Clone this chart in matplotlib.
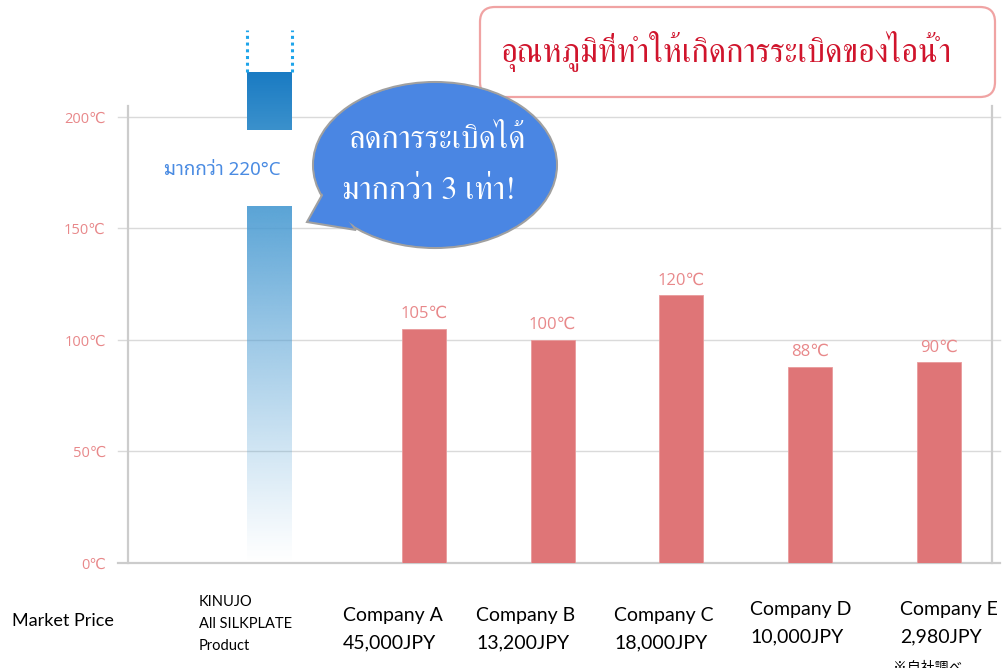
import matplotlib
matplotlib.use("Agg")
import matplotlib.pyplot as plt
import numpy as np
from matplotlib.patches import FancyBboxPatch, Ellipse, Polygon
from matplotlib.colors import to_rgb

# data
companies = ["Company A", "Company B", "Company C", "Company D", "Company E"]
prices = ["45,000JPY", "13,200JPY", "18,000JPY", "10,000JPY", "2,980JPY"]
temps = [105, 100, 120, 88, 90]
kinujo_temp = 220          # "more than 220°C"
kinujo_lower_top = 160     # lower gradient part of the broken bar
kinujo_upper_bottom = 194  # upper solid part of the broken bar
kinujo_dotted_top = 239
yticks = [0, 50, 100, 150, 200]

thai_serif = ["FreeSerif", "Noto Serif Thai", "DejaVu Sans"]
thai_sans = ["Noto Sans Thai Looped", "Noto Sans Thai", "DejaVu Sans"]
latin = ["Lato", "DejaVu Sans"]

pink = "#e8888a"
red_bar = "#df7577"
grey = "#cccccc"

fig = plt.figure(figsize=(10.08, 6.68), dpi=100)
ax = fig.add_axes([128 / 1008, 105 / 668, 864 / 1008, 546.4 / 668])

x_k = 0.0
x_c = np.arange(len(companies)) + 1.2
w = 0.342

# grid lines, slightly longer than the axes on both sides
for yv in yticks[1:]:
    ax.plot([-0.0116, 1.0093], [yv, yv], transform=ax.get_yaxis_transform(),
            color="#dadada", lw=1.0, clip_on=False, zorder=1)
ax.plot([-0.0116, 1.0093], [0, 0], transform=ax.get_yaxis_transform(),
        color=grey, lw=1.6, clip_on=False, zorder=1)

# red bars
ax.bar(x_c, temps, width=w, color=red_bar, edgecolor="#e99a9b", lw=0.6, zorder=3)
for xx, t in zip(x_c, temps):
    ax.annotate(f"{t}℃", (xx, t), xytext=(0, 5), textcoords="offset points",
                ha="center", va="bottom", color=pink, fontsize=12,
                family=["Open Sans", "DejaVu Sans"], zorder=4)

# KINUJO lower gradient part
n = 256
alpha = np.linspace(0.0, 0.92, n) ** 1.1
grad = np.zeros((n, 1, 4))
grad[:, 0, :3] = to_rgb("#4a9bd2")
grad[:, 0, 3] = alpha
ax.imshow(grad, extent=[x_k - w / 2, x_k + w / 2, 0, kinujo_lower_top],
          origin="lower", aspect="auto", zorder=3, interpolation="bilinear")

# KINUJO upper solid part
top_c = np.array(to_rgb("#1a7bc3"))
bot_c = np.array(to_rgb("#3b91cc"))
g2 = np.zeros((64, 1, 3))
for i in range(64):
    g2[i, 0] = bot_c + (top_c - bot_c) * i / 63
ax.imshow(g2, extent=[x_k - w / 2, x_k + w / 2, kinujo_upper_bottom, kinujo_temp],
          origin="lower", aspect="auto", zorder=3, clip_on=False)
for xe in (x_k - w / 2, x_k + w / 2):
    ax.plot([xe, xe], [kinujo_temp, kinujo_dotted_top], color="#1fa5ea",
            lw=2.2, ls=(0, (1, 1.2)), clip_on=False, zorder=3)

ax.text(-0.37, 176, "มากกว่า 220°C", ha="center", va="center",
        color="#4a8be2", fontsize=13.5, family=thai_sans, zorder=4)

ax.set_xlim(-1.0995, 5.614)
ax.set_ylim(0, 245)
ax.set_xticks([])
ax.set_yticks(yticks)
ax.set_yticklabels([f"{v}℃" for v in yticks], color=pink, fontsize=10.5,
                   family=["Open Sans", "DejaVu Sans"])
ax.tick_params(axis="y", length=0, pad=16)
for s in ("top", "bottom"):
    ax.spines[s].set_visible(False)
for s in ("left", "right"):
    ax.spines[s].set_color(grey)
    ax.spines[s].set_linewidth(1.6)
    ax.spines[s].set_bounds(0, 205)
ax.patch.set_alpha(0)

# overlay in pixel coordinates for the boxes and labels
ov = fig.add_axes([0, 0, 1, 1], zorder=5)
ov.set_xlim(0, 1008)
ov.set_ylim(668, 0)
ov.axis("off")
ov.patch.set_alpha(0)

box = FancyBboxPatch((480, 7), 515, 90, boxstyle="round,pad=0,rounding_size=15",
                     fc="white", ec="#f0a3a3", lw=1.6)
ov.add_patch(box)
ov.text(726, 52, "อุณหภูมิที่ทำให้เกิดการระเบิดของไอน้ำ", ha="center", va="center",
        color="#d0142c", fontsize=23.5, family=thai_serif)

# speech bubble
bub = "#4a86e3"
ov.add_patch(Ellipse((435, 165), 244, 166, fc=bub, ec="#a0a0a0", lw=1.5))
ov.add_patch(Polygon([(307, 222), (326, 188), (356, 230)], closed=True,
                     fc=bub, ec="#a0a0a0", lw=1.5))
ov.add_patch(Ellipse((435, 165), 241, 163, fc=bub, ec="none"))
ov.text(437, 140, "ลดการระเบิดได้", ha="center", va="center", color="white",
        fontsize=23, family=thai_serif)
ov.text(429, 191, "มากกว่า 3 เท่า!", ha="center", va="center", color="white",
        fontsize=23, family=thai_serif)

# bottom labels
ov.text(12, 621, "Market Price", ha="left", va="center", fontsize=13, family=latin)
ov.text(199, 624, "KINUJO\nAll SILKPLATE\nProduct", ha="left", va="center",
        fontsize=10.5, family=latin, linespacing=1.75)
label_x = [343, 476, 614, 750, 900]
label_y = [629, 629, 629, 623, 623]
for lx, ly, c, p in zip(label_x, label_y, companies, prices):
    ov.text(lx, ly, c + "\n" + p, ha="left", va="center", fontsize=14,
            family=latin, linespacing=1.75)
ov.text(893, 661, "※自社調べ", ha="left", va="top", fontsize=10,
        family=["Noto Sans CJK JP", "DejaVu Sans"])

fig.savefig("out.png", dpi=100)
